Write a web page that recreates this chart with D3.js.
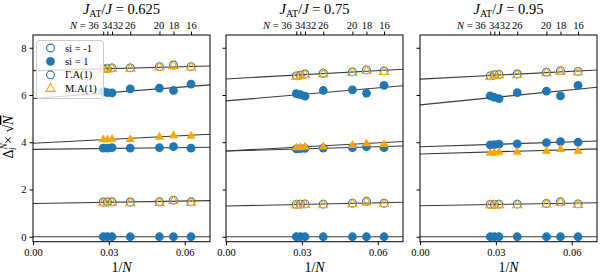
<!DOCTYPE html>
<html>
<head>
<meta charset="utf-8">
<script src="https://cdn.jsdelivr.net/npm/d3@7"></script>
<style>
  body { margin: 0; background: #fff; }
  svg { display: block; font-family: "Liberation Serif", "DejaVu Serif", serif; }
</style>
</head>
<body>
<div id="chart"></div>
<script>
const sizes = [36, 34, 32, 26, 20, 18, 16]
const couplings = ['0.625', '0.75', '0.95']
const yTicks = [0, 2, 4, 6, 8]
const xTicks = [0, 0.03, 0.06]
const legendLabels = ['si = -1', 'si = 1', 'Γ.A(1)', 'M.A(1)']

// J_AT/J = 0.625
const a_openG = [7.12, 7.12, 7.15, 7.15, 7.20, 7.27, 7.20]
const a_openM = [7.10, 7.11, 7.14, 7.14, 7.19, 7.25, 7.19]
const a_fillG1 = [6.14, 6.10, 6.09, 6.26, 6.29, 6.19, 6.46]
const a_fillM = [4.13, 4.13, 4.15, 4.14, 4.24, 4.30, 4.28]
const a_fillG2 = [3.75, 3.75, 3.77, 3.75, 3.77, 3.81, 3.75]
const a_lowG = [1.47, 1.47, 1.48, 1.47, 1.48, 1.55, 1.48]
const a_lowM = [1.45, 1.45, 1.46, 1.45, 1.46, 1.53, 1.46]
const a_zero = [0, 0, 0, 0, 0, 0, 0]
const a_fits = [[7.03, 7.23], [5.85, 6.43], [3.96, 4.34], [3.70, 3.79], [1.41, 1.53], [0, 0]]

// J_AT/J = 0.75
const b_openG = [6.81, 6.84, 6.89, 6.92, 6.98, 7.06, 7.02]
const b_openM = [6.79, 6.82, 6.87, 6.90, 6.96, 7.04, 7.00]
const b_fillG1 = [6.06, 6.02, 5.95, 6.19, 6.22, 6.08, 6.41]
const b_fillM = [3.79, 3.80, 3.82, 3.83, 3.89, 3.96, 3.93]
const b_fillG2 = [3.72, 3.73, 3.74, 3.75, 3.77, 3.81, 3.77]
const b_lowG = [1.37, 1.38, 1.39, 1.38, 1.42, 1.50, 1.42]
const b_lowM = [1.35, 1.36, 1.37, 1.36, 1.40, 1.48, 1.40]
const b_zero = [0, 0, 0, 0, 0, 0, 0]
const b_fits = [[6.68, 7.09], [5.75, 6.39], [3.63, 4.03], [3.63, 3.84], [1.30, 1.46], [0, 0]]

// J_AT/J = 0.95
const c_openG = [6.81, 6.86, 6.87, 6.89, 6.97, 7.03, 7.00]
const c_openM = [6.79, 6.84, 6.85, 6.87, 6.95, 7.01, 6.98]
const c_fillG1 = [5.96, 5.90, 5.85, 6.10, 6.16, 5.96, 6.41]
const c_fillG2 = [3.89, 3.90, 3.92, 3.93, 3.98, 4.03, 4.00]
const c_fillM = [3.56, 3.57, 3.60, 3.60, 3.65, 3.72, 3.65]
const c_lowG = [1.37, 1.37, 1.38, 1.38, 1.41, 1.48, 1.39]
const c_lowM = [1.35, 1.35, 1.36, 1.36, 1.39, 1.46, 1.37]
const c_zero = [0, 0, 0, 0, 0, 0, 0]
const c_fits = [[6.67, 7.06], [5.58, 6.33], [3.81, 4.05], [3.50, 3.72], [1.31, 1.44], [0, 0]]

const BLUE = '#1f77b4'
const ORANGE = '#ffa500'

const panels = [
  { coupling: couplings[0], fits: a_fits, series: [
    { shape: 'circle', filled: false, values: a_openG },
    { shape: 'circle', filled: false, values: a_lowG },
    { shape: 'circle', filled: true, values: a_fillG1 },
    { shape: 'circle', filled: true, values: a_fillG2 },
    { shape: 'circle', filled: true, values: a_zero },
    { shape: 'triangle', filled: false, values: a_openM },
    { shape: 'triangle', filled: false, values: a_lowM },
    { shape: 'triangle', filled: true, values: a_fillM },
  ] },
  { coupling: couplings[1], fits: b_fits, series: [
    { shape: 'circle', filled: false, values: b_openG },
    { shape: 'circle', filled: false, values: b_lowG },
    { shape: 'circle', filled: true, values: b_fillG1 },
    { shape: 'circle', filled: true, values: b_fillG2 },
    { shape: 'circle', filled: true, values: b_zero },
    { shape: 'triangle', filled: false, values: b_openM },
    { shape: 'triangle', filled: false, values: b_lowM },
    { shape: 'triangle', filled: true, values: b_fillM },
  ] },
  { coupling: couplings[2], fits: c_fits, series: [
    { shape: 'circle', filled: false, values: c_openG },
    { shape: 'circle', filled: false, values: c_lowG },
    { shape: 'circle', filled: true, values: c_fillG1 },
    { shape: 'circle', filled: true, values: c_fillG2 },
    { shape: 'circle', filled: true, values: c_zero },
    { shape: 'triangle', filled: false, values: c_openM },
    { shape: 'triangle', filled: false, values: c_lowM },
    { shape: 'triangle', filled: true, values: c_fillM },
  ] },
]

const width = 600
const height = 279
const panelLeft = [33, 226, 420]
const panelW = 177
const plotTop = 35
const plotBottom = 241.7
const FONT = 'Liberation Serif'
// nudges for the crowded top labels (N = 36, 34, 32, 26 ...)
const nLabelDx = [-5, -0.5, 5.5, -0.5, -1, 0, 0]

const svg = d3.select('#chart').append('svg')
  .attr('xmlns', 'http://www.w3.org/2000/svg')
  .attr('width', width)
  .attr('height', height)

const y = d3.scaleLinear().domain([-0.21, 8.54]).range([plotBottom, plotTop])
const triangle = d3.symbol().type(d3.symbolTriangle).size(36)

panels.forEach((p, pi) => {
  const x = d3.scaleLinear().domain([0, 0.07]).range([0, panelW])
  const g = svg.append('g').attr('transform', `translate(${panelLeft[pi]},0)`)

  const clipId = `clip${pi}`
  g.append('clipPath').attr('id', clipId).append('rect')
    .attr('x', 0).attr('y', plotTop).attr('width', panelW).attr('height', plotBottom - plotTop)
  const plot = g.append('g').attr('clip-path', `url(#${clipId})`)

  // fit lines
  const line = d3.line().x((d) => x(d[0])).y((d) => y(d[1]))
  plot.selectAll('.fit').data(p.fits).join('path')
    .attr('class', 'fit')
    .attr('d', (f) => line([[0, f[0]], [0.07, f[1]]]))
    .attr('fill', 'none').attr('stroke', '#3a3a3a').attr('stroke-width', 1.1)

  // markers
  p.series.forEach((s) => {
    const pts = s.values.map((v, i) => ({ x: 1 / sizes[i], y: v }))
    const color = s.shape === 'circle' ? BLUE : ORANGE
    if (s.shape === 'circle') {
      plot.selectAll(null).data(pts).join('circle')
        .attr('cx', (d) => x(d.x)).attr('cy', (d) => y(d.y)).attr('r', s.filled ? 4.4 : 3.9)
        .attr('fill', s.filled ? color : 'none')
        .attr('stroke', color).attr('stroke-width', s.filled ? 0 : 1.1)
    } else {
      plot.selectAll(null).data(pts).join('path')
        .attr('d', triangle)
        .attr('transform', (d) => `translate(${x(d.x)},${y(d.y) + 0.5})`)
        .attr('fill', s.filled ? color : 'none')
        .attr('stroke', color).attr('stroke-width', s.filled ? 0 : 1.1)
    }
  })

  // frame
  g.append('rect').attr('x', 0).attr('y', plotTop).attr('width', panelW).attr('height', plotBottom - plotTop)
    .attr('fill', 'none').attr('stroke', '#000').attr('stroke-width', 1)

  // bottom axis
  const xAxis = g.append('g').attr('transform', `translate(0,${plotBottom})`)
    .call(d3.axisBottom(x).tickValues(xTicks).tickFormat(d3.format('.2f')).tickSize(3.5).tickPadding(3))
  xAxis.attr('font-family', FONT)
  xAxis.select('.domain').remove()
  xAxis.selectAll('text').attr('font-size', 10.5).attr('font-family', FONT).attr('fill', '#000')

  // left axis
  const yAxis = g.append('g')
    .call(d3.axisLeft(y).tickValues(yTicks).tickSize(3.5).tickPadding(3)
      .tickFormat(pi === 0 ? d3.format('d') : () => ''))
  yAxis.attr('font-family', FONT)
  yAxis.select('.domain').remove()
  yAxis.selectAll('text').attr('font-size', 10.5).attr('font-family', FONT).attr('fill', '#000')

  // top axis: system sizes N
  const nAxis = g.append('g').attr('transform', `translate(0,${plotTop})`)
    .call(d3.axisTop(x).tickValues(sizes.map((n) => 1 / n)).tickSize(3.5).tickPadding(2.5)
      .tickFormat((d, i) => sizes[i]))
  nAxis.attr('font-family', FONT)
  nAxis.select('.domain').remove()
  nAxis.selectAll('text').attr('font-size', 10.5).attr('font-family', FONT).attr('fill', '#000')
    .attr('dx', (d, i) => nLabelDx[i])
    .each(function (d, i) {
      if (i === 0) {
        const t = d3.select(this).text(null).attr('text-anchor', 'end')
        t.append('tspan').attr('font-style', 'italic').text('N')
        t.append('tspan').text(' = ' + sizes[0])
      }
    })

  // title
  const title = g.append('text').attr('x', panelW / 2).attr('y', 13.5)
    .attr('text-anchor', 'middle').attr('font-size', 14.5).attr('font-family', FONT)
  title.append('tspan').attr('font-style', 'italic').text('J')
  title.append('tspan').attr('font-size', 10).attr('dy', 3).text('AT')
  title.append('tspan').attr('dy', -3).text('/')
  title.append('tspan').attr('font-style', 'italic').text('J')
  title.append('tspan').text(' = ' + p.coupling)

  // x label
  const xl = g.append('text').attr('x', panelW / 2).attr('y', 272)
    .attr('text-anchor', 'middle').attr('font-size', 14).attr('font-family', FONT)
  xl.append('tspan').text('1/')
  xl.append('tspan').attr('font-style', 'italic').text('N')
})

// y label
const yl = svg.append('text').attr('transform', 'translate(13,137) rotate(-90)')
  .attr('text-anchor', 'middle').attr('font-size', 14).attr('font-family', FONT)
yl.append('tspan').text('Δ')
yl.append('tspan').attr('font-size', 9.5).attr('font-style', 'italic').attr('dy', -6).text('N')
yl.append('tspan').attr('font-size', 9.5).attr('font-style', 'italic').attr('dx', -7).attr('dy', 9).text('i')
yl.append('tspan').attr('dy', -3).text('  ×  √')
yl.append('tspan').attr('font-style', 'italic').attr('text-decoration', 'overline').text('N')

// legend
const lg = svg.append('g').attr('transform', 'translate(36.5,40.5)').attr('font-family', FONT)
lg.append('rect').attr('width', 67).attr('height', 58).attr('rx', 2.5)
  .attr('fill', '#fff').attr('fill-opacity', 0.8).attr('stroke', '#cccccc').attr('stroke-width', 1)
const legendMarks = [
  { shape: 'circle', filled: false, color: BLUE },
  { shape: 'circle', filled: true, color: BLUE },
  { shape: 'circle', filled: false, color: BLUE },
  { shape: 'triangle', filled: false, color: ORANGE },
]
legendLabels.forEach((label, i) => {
  const row = lg.append('g').attr('transform', `translate(0,${7.5 + i * 13.4})`)
  const m = legendMarks[i]
  if (m.shape === 'circle') {
    row.append('circle').attr('cx', 14).attr('cy', 0).attr('r', m.filled ? 4.4 : 3.9)
      .attr('fill', m.filled ? m.color : 'none').attr('stroke', m.color).attr('stroke-width', m.filled ? 0 : 1.1)
  } else {
    row.append('path').attr('d', triangle).attr('transform', 'translate(14,0.5)')
      .attr('fill', 'none').attr('stroke', m.color).attr('stroke-width', 1.1)
  }
  row.append('text').attr('x', 28.5).attr('y', 3.5).attr('font-size', 10.5).text(label)
})
</script>
</body>
</html>
